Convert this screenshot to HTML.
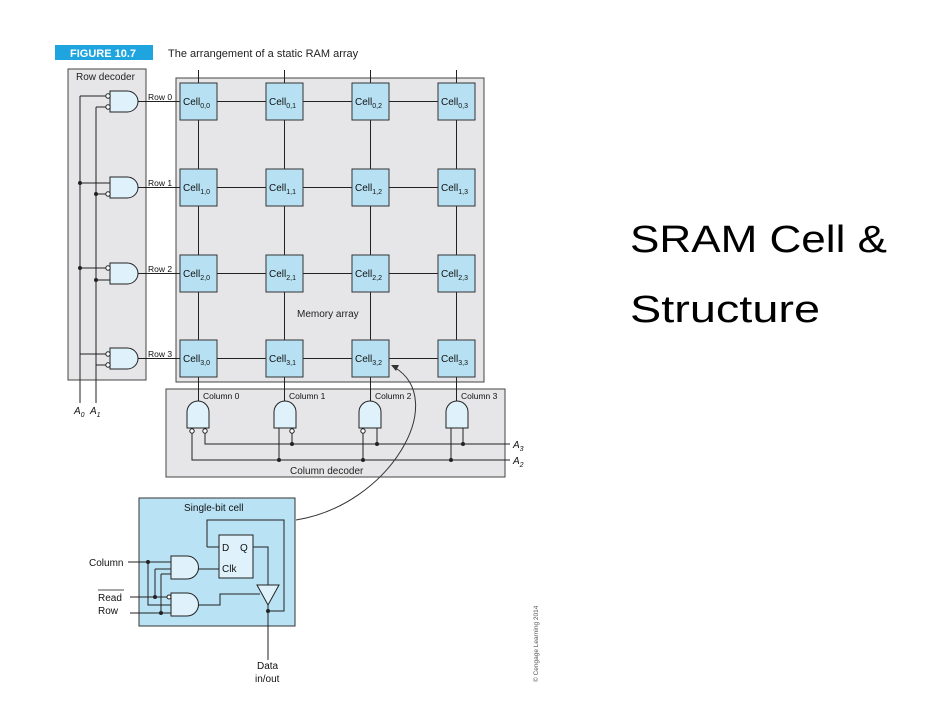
<!DOCTYPE html>
<html><head><meta charset="utf-8"><style>
html,body{margin:0;padding:0;background:#fff;}
svg{display:block;font-family:"Liberation Sans",sans-serif;}
.t{font-size:10px;fill:#222}
.c{font-size:10px;fill:#111}
.s{font-size:7px}
</style></head><body>
<svg width="933" height="710" viewBox="0 0 933 710">
<rect x="55" y="45" width="98" height="15" fill="#1ea5e0"/>
<text x="70" y="57" font-size="11" font-weight="bold" fill="#fff">FIGURE 10.7</text>
<text x="168" y="57" font-size="11" fill="#222">The arrangement of a static RAM array</text>

<rect x="68" y="69" width="78" height="311" fill="#e6e6e8" stroke="#444" stroke-width="1"/>
<text x="76" y="80" class="t">Row decoder</text>
<rect x="176" y="78" width="308" height="304" fill="#e6e6e8" stroke="#444"/>
<text x="297" y="317" class="t">Memory array</text>
<rect x="166" y="389" width="339" height="88" fill="#e6e6e8" stroke="#444"/>
<text x="290" y="474" class="t">Column decoder</text>

<g stroke="#222" stroke-width="1" fill="none">
<path d="M198.5 70V401 M284.5 70V401 M370.5 70V401 M456.5 70V401"/>
<path d="M138 101.5H456 M138 187.5H456 M138 273.5H456 M138 358.5H456"/>
<path d="M80 96V403 M96 107V403"/>
<path d="M80 96H106 M96 107H106 M80 183H110 M96 194H106 M80 268H106 M96 280H110 M80 354H106 M96 365H106"/>
<path d="M192 432V460H510 M205 432V444H510 M279 428V460 M292 432V444 M363 432V460 M377 428V444 M451 428V460 M463 428V444"/>
</g>
<g fill="#222">
<circle cx="80" cy="183" r="2"/><circle cx="96" cy="194" r="2"/><circle cx="80" cy="268" r="2"/><circle cx="96" cy="280" r="2"/>
<circle cx="279" cy="460" r="2"/><circle cx="363" cy="460" r="2"/><circle cx="451" cy="460" r="2"/>
<circle cx="292" cy="444" r="2"/><circle cx="377" cy="444" r="2"/><circle cx="463" cy="444" r="2"/>
</g>
<g fill="#dff1fb" stroke="#222">
<path d="M110 91h17a11 10.5 0 0 1 0 21h-17z"/>
<path d="M110 177h17a11 10.5 0 0 1 0 21h-17z"/>
<path d="M110 263h17a11 10.5 0 0 1 0 21h-17z"/>
<path d="M110 348h17a11 10.5 0 0 1 0 21h-17z"/>
</g>
<g fill="#fff" stroke="#222">
<circle cx="108" cy="96" r="2.2"/><circle cx="108" cy="107" r="2.2"/>
<circle cx="108" cy="194" r="2.2"/><circle cx="108" cy="268" r="2.2"/>
<circle cx="108" cy="354" r="2.2"/><circle cx="108" cy="365" r="2.2"/>
</g>
<g class="c" font-size="8.5"><text x="148" y="100" font-size="8.5">Row 0</text><text x="148" y="186" font-size="8.5">Row 1</text><text x="148" y="272" font-size="8.5">Row 2</text><text x="148" y="357" font-size="8.5">Row 3</text></g>

<g fill="#dff1fb" stroke="#222">
<path d="M187 428v-16a11 11 0 0 1 22 0v16z"/>
<path d="M274 428v-16a11 11 0 0 1 22 0v16z"/>
<path d="M359 428v-16a11 11 0 0 1 22 0v16z"/>
<path d="M446 428v-16a11 11 0 0 1 22 0v16z"/>
</g>
<g fill="#fff" stroke="#222">
<circle cx="192" cy="431" r="2.2"/><circle cx="205" cy="431" r="2.2"/><circle cx="292" cy="431" r="2.2"/><circle cx="363" cy="431" r="2.2"/>
</g>
<g font-size="8.5" fill="#111"><text x="203" y="399">Column 0</text><text x="289" y="399">Column 1</text><text x="375" y="399">Column 2</text><text x="461" y="399">Column 3</text></g>
<text x="513" y="448" font-size="10" font-style="italic" fill="#111">A<tspan font-size="7" dy="3">3</tspan></text>
<text x="513" y="464" font-size="10" font-style="italic" fill="#111">A<tspan font-size="7" dy="3">2</tspan></text>
<text x="74" y="414" font-size="10" font-style="italic" fill="#111">A<tspan font-size="7" dy="3">0</tspan></text>
<text x="90" y="414" font-size="10" font-style="italic" fill="#111">A<tspan font-size="7" dy="3">1</tspan></text>

<g fill="#b7e1f3" stroke="#333">
<rect x="180" y="83" width="37" height="37"/><rect x="266" y="83" width="37" height="37"/><rect x="352" y="83" width="37" height="37"/><rect x="438" y="83" width="37" height="37"/>
<rect x="180" y="169" width="37" height="37"/><rect x="266" y="169" width="37" height="37"/><rect x="352" y="169" width="37" height="37"/><rect x="438" y="169" width="37" height="37"/>
<rect x="180" y="255" width="37" height="37"/><rect x="266" y="255" width="37" height="37"/><rect x="352" y="255" width="37" height="37"/><rect x="438" y="255" width="37" height="37"/>
<rect x="180" y="340" width="37" height="37"/><rect x="266" y="340" width="37" height="37"/><rect x="352" y="340" width="37" height="37"/><rect x="438" y="340" width="37" height="37"/>
</g>
<g class="c">
<text x="183" y="105">Cell<tspan class="s" dy="3">0,0</tspan></text><text x="269" y="105">Cell<tspan class="s" dy="3">0,1</tspan></text><text x="355" y="105">Cell<tspan class="s" dy="3">0,2</tspan></text><text x="441" y="105">Cell<tspan class="s" dy="3">0,3</tspan></text>
<text x="183" y="191">Cell<tspan class="s" dy="3">1,0</tspan></text><text x="269" y="191">Cell<tspan class="s" dy="3">1,1</tspan></text><text x="355" y="191">Cell<tspan class="s" dy="3">1,2</tspan></text><text x="441" y="191">Cell<tspan class="s" dy="3">1,3</tspan></text>
<text x="183" y="277">Cell<tspan class="s" dy="3">2,0</tspan></text><text x="269" y="277">Cell<tspan class="s" dy="3">2,1</tspan></text><text x="355" y="277">Cell<tspan class="s" dy="3">2,2</tspan></text><text x="441" y="277">Cell<tspan class="s" dy="3">2,3</tspan></text>
<text x="183" y="362">Cell<tspan class="s" dy="3">3,0</tspan></text><text x="269" y="362">Cell<tspan class="s" dy="3">3,1</tspan></text><text x="355" y="362">Cell<tspan class="s" dy="3">3,2</tspan></text><text x="441" y="362">Cell<tspan class="s" dy="3">3,3</tspan></text>
</g>

<path d="M296 520 C390 505 450 400 394 367" fill="none" stroke="#333"/>
<path d="M391 365 l8 0 l-3 6z" fill="#333"/>

<rect x="139" y="498" width="156" height="128" fill="#b9e3f5" stroke="#333"/>
<text x="184" y="511" font-size="10" fill="#111">Single-bit cell</text>
<g stroke="#222" fill="none">
<path d="M207 547V520H284V611H268"/>
<path d="M207 547H219"/>
<path d="M253 547H268V588"/>
<path d="M128 562H171 M148 562V605H171 M155 569V597H171 M161 574V613H171"/>
<path d="M130 597H155 M130 613H171"/>
<path d="M155 569H171 M161 574H171"/>
<path d="M198 569H219"/>
<path d="M198 605H220V594H260"/>
<path d="M268 605V660"/>
</g>
<rect x="219" y="535" width="34" height="43" fill="#dff1fb" stroke="#222"/>
<text x="222" y="551" font-size="10" fill="#111">D</text><text x="240" y="551" font-size="10" fill="#111">Q</text>
<text x="222" y="572" font-size="10" fill="#111">Clk</text>
<path d="M171 556h16a11 11 0 0 1 0 23h-16z" fill="#dff1fb" stroke="#222"/>
<path d="M171 593h16a11 11 0 0 1 0 23h-16z" fill="#dff1fb" stroke="#222"/>
<circle cx="169" cy="597" r="2" fill="#fff" stroke="#222"/>
<path d="M257 585H279L268 605z" fill="#dff1fb" stroke="#222"/>
<g fill="#222"><circle cx="148" cy="562" r="2"/><circle cx="155" cy="597" r="2"/><circle cx="161" cy="613" r="2"/><circle cx="268" cy="611" r="2"/></g>
<text x="89" y="566" font-size="10" fill="#111">Column</text>
<text x="98" y="601" font-size="10" fill="#111">Read</text>
<line x1="98" y1="590" x2="124" y2="590" stroke="#111" stroke-width="0.8"/>
<text x="98" y="614" font-size="10" fill="#111">Row</text>
<text x="257" y="669" font-size="10" fill="#111">Data</text>
<text x="255" y="682" font-size="10" fill="#111">in/out</text>
<text transform="translate(538 682) rotate(-90)" font-size="6.5" fill="#555">© Cengage Learning 2014</text>

<text x="630" y="252" font-size="38" fill="#000" textLength="257" lengthAdjust="spacingAndGlyphs">SRAM Cell &amp;</text>
<text x="630" y="322" font-size="38" fill="#000" textLength="190" lengthAdjust="spacingAndGlyphs">Structure</text>
</svg>
</body></html>
